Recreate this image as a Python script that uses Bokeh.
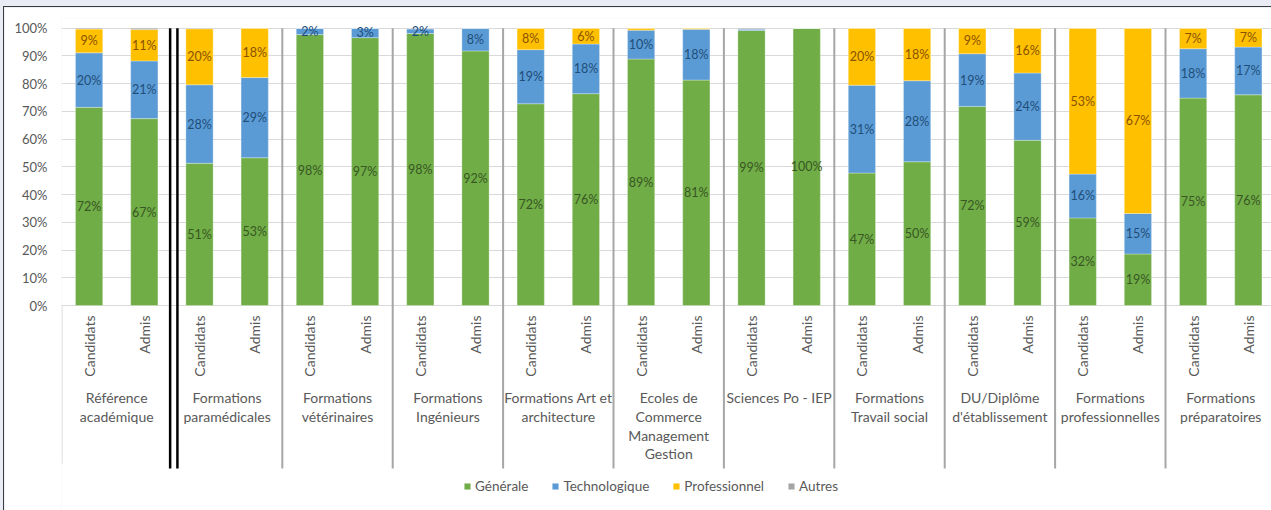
import numpy as np
from bokeh.plotting import figure
from bokeh.layouts import column
from bokeh.models import ColumnDataSource, Range1d, FixedTicker, PrintfTickFormatter
from bokeh.core.properties import value
from bokeh.embed import file_html
from bokeh.resources import INLINE

# ---------------- data ----------------
groups = ["Référence\nacadémique", "Formations\nparamédicales", "Formations\nvétérinaires",
          "Formations\nIngénieurs", "Formations Art et\narchitecture",
          "Ecoles de\nCommerce\nManagement\nGestion", "Sciences Po - IEP",
          "Formations\nTravail social", "DU/Diplôme\nd'établissement",
          "Formations\nprofessionnelles", "Formations\npréparatoires"]
subs = ["Candidats", "Admis"]
series = ["Générale", "Technologique", "Professionnel", "Autres"]

generale = [71.6, 67.4, 51.3, 53.3, 97.7, 96.6, 98.1, 91.8, 72.4, 76.4, 88.9,
            81.3, 99.2, 100.0, 47.4, 50.4, 71.8, 59.4, 31.6, 18.6, 74.8, 76.0]
techno = [19.7, 20.8, 28.3, 28.9, 2.3, 3.4, 1.7, 8.2, 19.4, 17.9, 10.4,
          18.3, 0.5, 0.0, 31.4, 28.4, 19.0, 24.2, 15.8, 14.6, 17.8, 17.2]
pro = [8.6, 11.3, 20.2, 17.8, 0.0, 0.0, 0.0, 0.0, 7.7, 5.7, 0.7,
       0.4, 0.0, 0.0, 20.4, 18.4, 9.2, 16.1, 52.6, 66.8, 7.4, 6.8]
autres = [0.3, 0.5, 0.2, 0.0, 0.0, 0.0, 0.2, 0.0, 0.0, 0.0, 0.0,
          0.0, 0.3, 0.0, 0.0, 0.0, 0.0, 0.0, 0.0, 0.0, 0.0, 0.0]
y_ticks = list(range(0, 101, 10))

# ---------------- styles ----------------
fills = ["#70AD47", "#5B9BD5", "#FFC000", "#A5A5A5"]
label_colors = ["#385723", "#1F4E79", "#8A5200", "#404040"]
grey_txt = "#595959"
FONT = "Lato"

n_groups = len(groups)
x_pos = [g + 0.25 + 0.5 * s for g in range(n_groups) for s in range(len(subs))]

raw = np.array([generale, techno, pro, autres], dtype=float)
norm = raw / raw.sum(axis=0) * 100.0  # 100% stacked columns

keys = ["G", "T", "P", "A"]
src = ColumnDataSource(dict(x=x_pos, **{k: norm[i] for i, k in enumerate(keys)}))

y_bottom = -73.9
sep_bottom = -58.8

p = figure(width=1267, height=503, x_range=Range1d(0, 10.96), y_range=Range1d(y_bottom, 103.5),
           output_backend="svg", toolbar_location=None, x_axis_location=None,
           min_border_left=57, min_border_right=0, min_border_top=11, min_border_bottom=0)
p.outline_line_color = None
p.background_fill_color = "white"
p.border_fill_color = "white"
p.xgrid.visible = False
p.ygrid.grid_line_color = "#D9D9D9"
p.ygrid.grid_line_width = 1
p.styles = {"outline": "1.5px solid #3C3C3C"}

ax = p.yaxis[0]
ax.ticker = FixedTicker(ticks=y_ticks)
ax.formatter = PrintfTickFormatter(format="%d%%")
ax.axis_line_color = None
ax.major_tick_line_color = None
ax.minor_tick_line_color = None
ax.major_tick_out = 0
ax.major_tick_in = 0
ax.major_label_standoff = 14
ax.major_label_text_font = FONT
ax.major_label_text_font_size = "13px"
ax.major_label_text_color = grey_txt

# bars
p.vbar_stack(keys, x="x", width=0.247, source=src, fill_color=fills,
             line_color="white", line_width=0.6, line_alpha=0.5,
             legend_label=series)

# data labels (centre of each segment)
lx, ly, lt, lc = [], [], [], []
for j, xv in enumerate(x_pos):
    base = 0.0
    for i in range(len(keys)):
        h = norm[i, j]
        if i < 3 and raw[i, j] >= 1.5:
            lx.append(xv)
            ly.append(base + h / 2.0)
            lt.append(f"{round(raw[i, j]):.0f}%")
            lc.append(label_colors[i])
        base += h
p.text(x=lx, y=ly, text=lt, text_color=lc, text_font=value(FONT), text_font_size="12.5px",
       text_align="center", text_baseline="middle")

# separators between groups
p.segment(x0=[0.005], y0=[0], x1=[0.005], y1=[-57], line_color="#D9D9D9", line_width=1)
p.segment(x0=[1 - 0.016, 1 + 0.05], y0=[100, 100], x1=[1 - 0.016, 1 + 0.05],
          y1=[sep_bottom, sep_bottom], line_color="black", line_width=2.5)
gb = list(range(2, n_groups))
p.segment(x0=gb, y0=[100] * len(gb), x1=gb, y1=[sep_bottom] * len(gb),
          line_color="#A6A6A6", line_width=2)

# sub-category labels (rotated)
p.text(x=x_pos, y=[-3.6] * len(x_pos), text=subs * n_groups, angle=np.pi / 2,
       text_align="right", text_baseline="middle", text_font=value(FONT),
       text_font_size="14px", text_color=grey_txt)

# group labels
gx, gy, gt = [], [], []
for g, name in enumerate(groups):
    for k, line in enumerate(name.split("\n")):
        gx.append(g + 0.5)
        gy.append(-33.2 - 6.74 * k)
        gt.append(line)
p.text(x=gx, y=gy, text=gt, text_align="center", text_baseline="middle",
       text_font=value(FONT), text_font_size="14px", text_color=grey_txt)

# legend
lg = p.legend[0]
lg.orientation = "horizontal"
lg.location = (402, 16)
lg.padding = 0
lg.margin = 0
lg.spacing = 23
lg.label_standoff = 4
lg.glyph_width = 8
lg.glyph_height = 8
lg.label_text_font = FONT
lg.label_text_font_size = "13.5px"
lg.label_text_color = grey_txt
lg.border_line_color = None
lg.background_fill_alpha = 0

page = column(p, styles={"background-color": "#E9ECF4", "padding-left": "4px",
                         "padding-top": "7px"})

open("out.html", "w").write(file_html(page, INLINE))
